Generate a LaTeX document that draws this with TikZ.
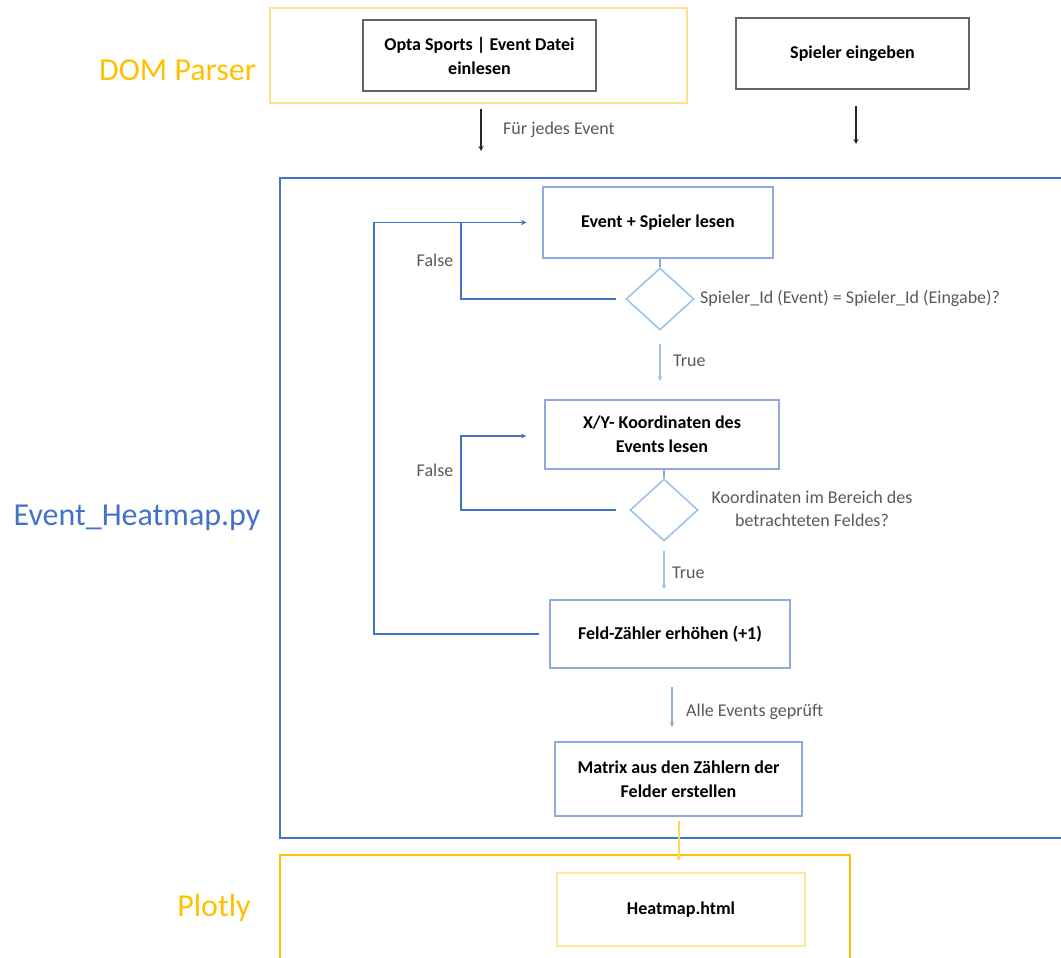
\documentclass[tikz,border=0pt]{standalone}
\usepackage{fontspec}
\setmainfont{Carlito}
\usetikzlibrary{shapes.geometric,arrows.meta,calc}
\definecolor{yDark}{HTML}{FFC000}
\definecolor{yLight}{HTML}{FFE08A}
\definecolor{yPale}{HTML}{FFE699}
\definecolor{bMain}{HTML}{4472C4}
\definecolor{bBox}{HTML}{8FAADC}
\definecolor{bDia}{HTML}{9DC3E6}
\definecolor{gBox}{HTML}{666666}
\definecolor{gTxt}{HTML}{595959}
\tikzset{
  boxtxt/.style={font=\fontsize{18}{24}\selectfont\bfseries, align=center, text=black},
  graybox/.style={draw=gBox, line width=1.8pt, boxtxt},
  bluebox/.style={draw=bBox, line width=1.6pt, boxtxt},
  dia/.style={diamond, draw=bDia, line width=1.6pt, inner sep=0pt},
  lbl/.style={font=\fontsize{18}{23}\selectfont, text=gTxt, inner sep=0pt},
  biglbl/.style={font=\fontsize{32}{36}\selectfont, inner sep=0pt},
  tip/.style={-{Stealth[length=5pt,width=5pt]}},
}
\begin{document}
\begin{tikzpicture}[x=1pt,y=-1pt]
\useasboundingbox (0,0) rectangle (1061,958);
% group frames
\node (dom) [draw=yLight, line width=2pt, minimum width=417pt, minimum height=95pt, inner sep=0pt] at (478.5,55.5) {};
\node (main) [draw=bMain, line width=2pt, minimum width=800pt, minimum height=660pt, inner sep=0pt] at (680,508) {};
\node (plot) [draw=yDark, line width=2.4pt, minimum width=570pt, minimum height=130pt, inner sep=0pt] at (565,920) {};
% group labels
\node (ldom) [biglbl, text=yDark] at (177.5,70) {DOM Parser};
\node (lmain) [biglbl, text=bMain] at (137,518) {Event\_Heatmap.py};
\node (lplot) [biglbl, text=yDark] at (214,908) {Plotly};
% top boxes
\node (opta) [graybox, minimum width=233pt, minimum height=71pt] at (479.5,55.5) {Opta Sports | Event Datei\\einlesen};
\node (spin) [graybox, minimum width=233pt, minimum height=71pt] at (852.5,53.5) {Spieler eingeben};
% flow boxes
\node (ev) [bluebox, minimum width=230pt, minimum height=71pt] at (658,222.5) {Event + Spieler lesen};
\node (d1) [dia, minimum width=68pt, minimum height=62pt] at (660,299) {};
\node (xy) [bluebox, minimum width=234pt, minimum height=69pt] at (662,434.5) {X/Y- Koordinaten des\\Events lesen};
\node (d2) [dia, minimum width=68pt, minimum height=62pt] at (664,510) {};
\node (feld) [bluebox, minimum width=240pt, minimum height=68pt] at (670,634) {Feld-Zähler erhöhen (+1)};
\node (mat) [bluebox, minimum width=247pt, minimum height=74pt] at (678.5,779) {Matrix aus den Zählern der\\Felder erstellen};
\node (heat) [draw=yPale, line width=2pt, boxtxt, minimum width=248pt, minimum height=73pt] at (681,909.5) {Heatmap.html};
% labels
\node (l1) [lbl, anchor=west] at (503,130) {Für jedes Event};
\node (lq1) [lbl, anchor=west] at (700,298) {Spieler\_Id (Event) = Spieler\_Id (Eingabe)?};
\node (lq2) [lbl, align=center] at (812,509) {Koordinaten im Bereich des\\betrachteten Feldes?};
\node (lf1) [lbl] at (435,260) {False};
\node (lf2) [lbl] at (435,470) {False};
\node (lt1) [lbl, anchor=west] at (673,361) {True};
\node (lt2) [lbl, anchor=west] at (672,573) {True};
\node (lae) [lbl, anchor=west] at (686,712) {Alle Events geprüft};
% connectors
\draw[tip, black!85, line width=1.2pt, shorten <=5pt, shorten >=26pt] ([xshift=2.5pt]dom.south) -- ([xshift=2.5pt]dom.south |- main.north);
\draw[tip, black!85, line width=1.2pt, shorten <=16pt, shorten >=33pt] ([xshift=3.5pt]spin.south) -- ([xshift=3.5pt]spin.south |- main.north);
\draw[bBox, line width=1.6pt] (ev.south -| d1.north) -- (d1.north);
\draw[bBox, line width=1.6pt] (xy.south -| d2.north) -- (d2.north);
\draw[tip, bMain, line width=1.6pt, shorten <=9pt, shorten >=16pt] (d1.west) -- ++(-164,0) |- (ev.west);
\draw[tip, bMain, line width=1.6pt, shorten <=13pt, shorten >=18pt] (d2.west) -- ++(-168,0) |- ([yshift=-1.5pt]xy.west);
\draw[tip, bMain, line width=1.6pt, shorten <=10pt, shorten >=16pt] (feld.west) -- ++(-175,0) |- (ev.west);
\draw[tip, bDia, line width=1.6pt, shorten <=13pt, shorten >=18pt] (d1.south) -- (d1.south |- xy.north);
\draw[tip, bDia, line width=1.6pt, shorten <=9pt, shorten >=10pt] (d2.south) -- (d2.south |- feld.north);
\draw[tip, bBox, line width=1.6pt, shorten <=18pt, shorten >=14pt] ([xshift=2pt]feld.south) -- ([xshift=2pt]feld.south |- mat.north);
\draw[tip, yDark!65, line width=2pt, shorten <=4pt, shorten >=11pt] (mat.south) -- (mat.south |- heat.north);
\end{tikzpicture}
\end{document}
